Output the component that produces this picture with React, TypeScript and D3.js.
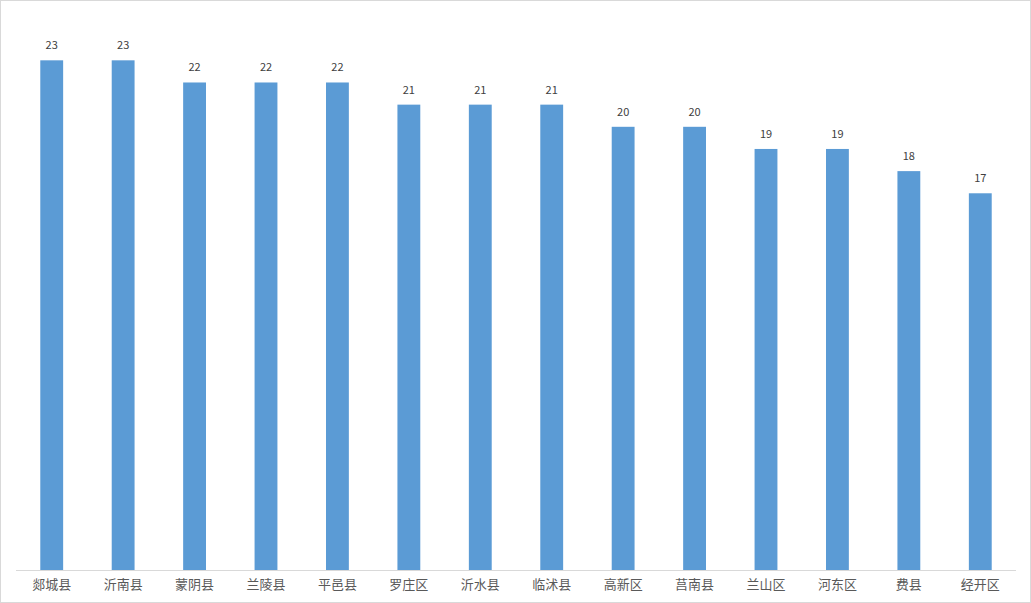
import React from "react";
import * as d3 from "d3";

const categories = ["郯城县", "沂南县", "蒙阴县", "兰陵县", "平邑县", "罗庄区", "沂水县", "临沭县", "高新区", "莒南县", "兰山区", "河东区", "费县", "经开区"];
const values = [23, 23, 22, 22, 22, 21, 21, 21, 20, 20, 19, 19, 18, 17];

const W = 1031;
const H = 603;

export default function App() {
  const x = d3.scaleBand<string>().domain(categories).range([16, 1016]).paddingInner(0.68).paddingOuter(0.34);
  const y = d3.scaleLinear().domain([0, 25]).range([570, 16]);
  const font = "'Microsoft YaHei', 'Noto Sans CJK SC', 'DejaVu Sans', sans-serif";
  return (
    <>
      <style>{"body{margin:0}"}</style>
      <svg width={W} height={H} style={{ display: "block" }}>
        <rect x={0.5} y={0.5} width={W - 1} height={H - 1} fill="#fff" stroke="#d9d9d9" />
        {categories.map((c, i) => (
          <g key={c}>
            <rect x={x(c)!} y={y(values[i])} width={x.bandwidth()} height={y(0) - y(values[i])} fill="#5b9bd5" />
            <text x={x(c)! + x.bandwidth() / 2} y={y(values[i]) - 11} textAnchor="middle" fontSize={11} fill="#404040" fontFamily={font}>
              {values[i]}
            </text>
            <text x={x(c)! + x.bandwidth() / 2} y={589} textAnchor="middle" fontSize={13} fill="#595959" fontFamily={font}>
              {c}
            </text>
          </g>
        ))}
        <line x1={16} x2={1016} y1={570.5} y2={570.5} stroke="#d9d9d9" />
      </svg>
    </>
  );
}
